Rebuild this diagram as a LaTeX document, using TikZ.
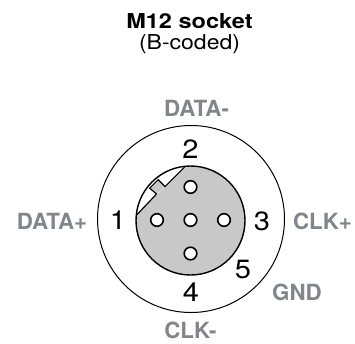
\documentclass[tikz,border=0pt]{standalone}
\usepackage{graphicx}
\usepackage{fontspec}
\setmainfont{TeX Gyre Heros}
\definecolor{labelgray}{RGB}{128,134,139}
\definecolor{socketgray}{RGB}{200,200,200}
\newcommand{\pinnum}[1]{\scalebox{1.1}[1]{#1}}
\tikzset{
  lbl/.style={font=\fontsize{22.3}{24}\selectfont\bfseries, text=labelgray, inner sep=0pt, anchor=base},
  num/.style={font=\fontsize{26.4}{28}\selectfont, inner sep=0pt, anchor=base},
  pin/.style={circle, draw, fill=white, line width=1.6pt, minimum size=12.6pt, inner sep=0pt},
}
\begin{document}
\begin{tikzpicture}[x=1pt,y=-1pt]
\useasboundingbox (0,0) rectangle (355,343);
% title
\node[anchor=base, inner sep=0pt] (title) at (189.5,28)
  {\resizebox{126.5pt}{\height}{\bfseries\fontsize{20.5}{22}\selectfont M12 socket}};
\node[anchor=base, inner sep=0pt] (sub) at (189.5,49)
  {\resizebox{101pt}{\height}{\fontsize{20.5}{22}\selectfont (B-coded)}};
% outer circle
\node[circle, draw, line width=1pt, minimum size=187pt, inner sep=0pt] (outer) at (191,219) {};
% socket face
\node[circle, fill=socketgray, minimum size=109pt, inner sep=0pt] (socket) at (190.5,220.5) {};
\coordinate (A) at (184.63,166.97);
\coordinate (P1) at (165.04,186.56);
\coordinate (P2) at (158.18,179.70);
\coordinate (P3) at (149.70,188.18);
\coordinate (P4) at (156.56,194.04);
\coordinate (B) at (136.97,214.63);
\coordinate (Aout) at (170.5,152.9);
\coordinate (Bout) at (122.9,200.5);
\begin{scope}
  \clip (socket.center) circle[radius=54.5];
  \fill[white] (A) -- (Aout) -- (Bout) -- (B) -- cycle;
  \fill[socketgray] (P1) -- (P2) -- (P3) -- (P4) -- cycle;
\end{scope}
\draw[line width=1.4pt] (socket.center) circle[radius=54.5];
\draw[line width=1.2pt, line join=miter] (A) -- (P1) -- (P2) -- (P3) -- (P4) -- (B);
% pins
\node[pin] (pc) at (190.5,220) {};
\node[pin] (ptop) at (190.5,187) {};
\node[pin] (pbot) at (190.5,253.5) {};
\node[pin] (pleft) at (157,220) {};
\node[pin] (pright) at (224,220) {};
% numbers
\node[num] (n2) at (190.5,158) {\pinnum{2}};
\node[num] (n1) at (118,229) {\pinnum{1}};
\node[num] (n3) at (262,230.7) {\pinnum{3}};
\node[num] (n5) at (243,278.3) {\pinnum{5}};
\node[num] (n4) at (191,301.7) {\pinnum{4}};
% labels
\node[lbl] (ldatam) at (196.5,116) {DATA-};
\node[lbl] (ldatap) at (52,229.3) {DATA+};
\node[lbl] (lclkp) at (322.5,229) {CLK+};
\node[lbl] (lgnd) at (297,300) {GND};
\node[lbl] (lclkm) at (190.5,338.3) {CLK-};
\end{tikzpicture}
\end{document}
